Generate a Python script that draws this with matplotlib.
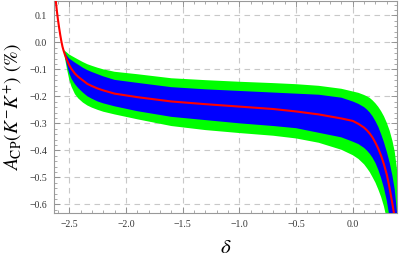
import matplotlib
matplotlib.use("Agg")
import matplotlib.pyplot as plt
from matplotlib.ticker import MultipleLocator, FuncFormatter

delta = [-2.64, -2.63, -2.62, -2.61, -2.60, -2.59, -2.58, -2.57, -2.56,
         -2.55, -2.54, -2.52, -2.50, -2.48, -2.45, -2.42, -2.38, -2.34, -2.30, -2.25, -2.20, -2.10,
         -1.90, -1.60, -1.30, -1.00, -0.70, -0.50, -0.30, -0.10,
         0.00, 0.05, 0.10, 0.125, 0.15, 0.175, 0.20, 0.225, 0.25, 0.275, 0.30, 0.325, 0.35, 0.37, 0.39, 0.40]

central = [0.25, 0.20, 0.157, 0.118, 0.084, 0.055, 0.028, 0.004, -0.016,
           -0.031, -0.044, -0.066, -0.085, -0.099, -0.116, -0.128, -0.141, -0.154, -0.162, -0.171, -0.178, -0.190,
           -0.203, -0.219, -0.229, -0.238, -0.247, -0.256, -0.267, -0.282,
           -0.291, -0.302, -0.316, -0.326, -0.338, -0.353, -0.372, -0.394, -0.420, -0.452, -0.490, -0.540,
           -0.600, -0.650, -0.720, -0.760]

# bands coincide with the central curve left of delta = -2.55
left_common = central[:9]

blue_top = left_common + [
    -0.029, -0.036, -0.050, -0.060, -0.066, -0.075, -0.083, -0.094, -0.103, -0.110, -0.118, -0.126, -0.139,
    -0.150, -0.166, -0.174, -0.180, -0.186, -0.190, -0.194, -0.205,
    -0.219, -0.228, -0.240, -0.249, -0.260, -0.274, -0.292, -0.313, -0.340, -0.370, -0.405, -0.445,
    -0.495, -0.545, -0.630, -0.700]

green_top = left_common + [
    -0.029, -0.031, -0.038, -0.045, -0.050, -0.057, -0.064, -0.073, -0.081, -0.087, -0.094, -0.100, -0.109,
    -0.118, -0.133, -0.140, -0.146, -0.151, -0.155, -0.161, -0.172,
    -0.182, -0.187, -0.195, -0.200, -0.206, -0.215, -0.226, -0.239, -0.255, -0.274, -0.298, -0.327,
    -0.365, -0.405, -0.470, -0.520]

blue_bot = left_common + [
    -0.029, -0.048, -0.085, -0.115, -0.135, -0.155, -0.170, -0.186, -0.200, -0.209, -0.219, -0.226, -0.237,
    -0.255, -0.276, -0.288, -0.300, -0.310, -0.318, -0.335, -0.352,
    -0.368, -0.377, -0.391, -0.401, -0.413, -0.428, -0.447, -0.472, -0.503, -0.540, -0.587, -0.650,
    -0.730, -0.800, -0.900, -0.950]

green_bot = left_common + [
    -0.029, -0.055, -0.100, -0.139, -0.165, -0.192, -0.208, -0.223, -0.234, -0.242, -0.250, -0.257, -0.267,
    -0.285, -0.310, -0.325, -0.336, -0.346, -0.356, -0.372, -0.398,
    -0.418, -0.432, -0.452, -0.466, -0.481, -0.500, -0.520, -0.545, -0.573, -0.608, -0.655, -0.720,
    -0.800, -0.870, -0.950, -1.000]

x_ticks = [-2.5, -2.0, -1.5, -1.0, -0.5, 0.0]
y_ticks = [0.1, 0.0, -0.1, -0.2, -0.3, -0.4, -0.5, -0.6]

plt.rcParams['mathtext.fontset'] = 'stix'
fig = plt.figure(figsize=(3.99, 2.60), dpi=100)
ax = fig.add_axes([0.1353, 0.181, 0.8597, 0.817])

ax.fill_between(delta, green_bot, green_top, color='#00FF00', lw=0, zorder=2)
ax.fill_between(delta, blue_bot, blue_top, color='#0000FF', lw=0, zorder=3)
ax.plot(delta, central, color='#FF0000', lw=1.5, zorder=4, solid_capstyle='butt')

ax.set_xlim(-2.635, 0.39)
ax.set_ylim(-0.632, 0.155)

ax.set_xticks(x_ticks)
ax.set_yticks(y_ticks)
ax.xaxis.set_minor_locator(MultipleLocator(0.1))
ax.yaxis.set_minor_locator(MultipleLocator(0.02))

fmt = FuncFormatter(lambda v, p: ("%.1f" % v).replace('-', '\u2212') if abs(v) > 1e-9 else "0.0")
ax.xaxis.set_major_formatter(fmt)
ax.yaxis.set_major_formatter(fmt)

ax.grid(True, which='major', color='#c8c8c8', ls=(0, (5, 4)), lw=0.8, zorder=1)
ax.tick_params(which='both', direction='in', top=True, right=True, color='#888888')
ax.tick_params(which='major', length=4, width=0.6, labelsize=7, labelcolor='#333333', pad=5)
ax.tick_params(which='minor', length=2, width=0.5)
for lab in ax.get_xticklabels() + ax.get_yticklabels():
    lab.set_family('Liberation Serif')
for s in ax.spines.values():
    s.set_color('#999999')
    s.set_linewidth(0.8)

ax.set_xlabel(r'$\delta$', fontsize=15, labelpad=6)
ax.set_ylabel(r'$A_{\mathrm{CP}}(K^{-}K^{+})$ (%)', fontsize=14, family='STIXGeneral', labelpad=4)

fig.savefig('out.png', dpi=100)
